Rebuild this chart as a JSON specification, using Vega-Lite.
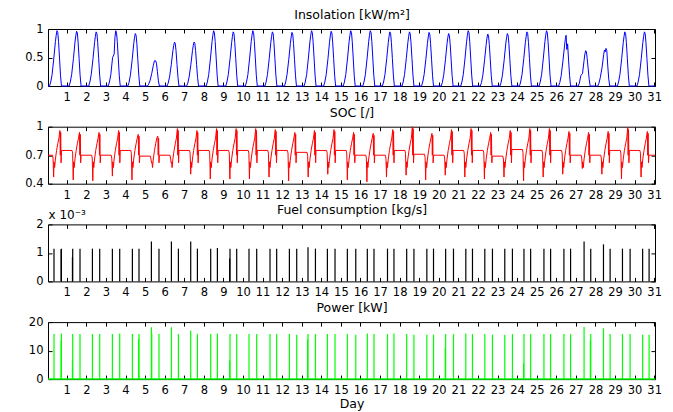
{
  "$schema": "https://vega.github.io/schema/vega-lite/v6.json",
  "bounds": "flush",
  "spacing": 40.7,
  "padding": {"left": 24, "top": 7, "right": 0, "bottom": 0},
  "background": "white",
  "config": {
    "font": "DejaVu Sans",
    "view": {"stroke": "black", "strokeWidth": 1},
    "axis": {
      "grid": false, "domain": false, "ticks": true, "tickColor": "black", "tickSize": -4,
      "labelFont": "DejaVu Sans", "labelFontSize": 11.5, "labelColor": "black",
      "labelOverlap": false, "labelFlush": false,
      "titleFont": "DejaVu Sans", "titleFontSize": 12.5, "titleFontWeight": "normal", "titleColor": "black"
    },
    "axisX": {"labelPadding": 9.5},
    "axisY": {"labelPadding": 9},
    "axisTop": {"titleY": -10.7, "titleX": 303.5, "titleAlign": "center", "titleBaseline": "alphabetic"}
  },
  "datasets": {
    "ins": [
      {"t":0.0417,"v":0},
      {"t":0.12,"v":0},{"t":0.18,"v":0.07},{"t":0.25,"v":0.2},{"t":0.34,"v":0.49},{"t":0.42,"v":0.78},{"t":0.46,"v":0.89},{"t":0.5,"v":0.97},{"t":0.54,"v":0.94},{"t":0.58,"v":0.78},{"t":0.63,"v":0.49},{"t":0.68,"v":0.19},{"t":0.73,"v":0},
      {"t":1.12,"v":0},{"t":1.18,"v":0.07},{"t":1.25,"v":0.2},{"t":1.34,"v":0.48},{"t":1.42,"v":0.77},{"t":1.46,"v":0.88},{"t":1.5,"v":0.96},{"t":1.54,"v":0.93},{"t":1.58,"v":0.77},{"t":1.63,"v":0.48},{"t":1.68,"v":0.19},{"t":1.73,"v":0},
      {"t":2.12,"v":0},{"t":2.18,"v":0.07},{"t":2.25,"v":0.2},{"t":2.34,"v":0.48},{"t":2.42,"v":0.76},{"t":2.46,"v":0.87},{"t":2.5,"v":0.95},{"t":2.54,"v":0.92},{"t":2.58,"v":0.76},{"t":2.63,"v":0.48},{"t":2.68,"v":0.19},{"t":2.73,"v":0},
      {"t":3.12,"v":0},{"t":3.18,"v":0.07},{"t":3.25,"v":0.2},{"t":3.34,"v":0.5},{"t":3.42,"v":0.56},{"t":3.46,"v":0.85},{"t":3.5,"v":0.97},{"t":3.54,"v":0.94},{"t":3.58,"v":0.78},{"t":3.63,"v":0.49},{"t":3.68,"v":0.19},{"t":3.73,"v":0},
      {"t":4.12,"v":0},{"t":4.18,"v":0.06},{"t":4.25,"v":0.19},{"t":4.34,"v":0.46},{"t":4.42,"v":0.74},{"t":4.46,"v":0.85},{"t":4.5,"v":0.92},{"t":4.54,"v":0.89},{"t":4.58,"v":0.74},{"t":4.63,"v":0.46},{"t":4.68,"v":0.18},{"t":4.73,"v":0},
      {"t":5.12,"v":0},{"t":5.18,"v":0.03},{"t":5.25,"v":0.09},{"t":5.34,"v":0.22},{"t":5.42,"v":0.36},{"t":5.46,"v":0.42},{"t":5.5,"v":0.45},{"t":5.54,"v":0.44},{"t":5.58,"v":0.4},{"t":5.63,"v":0.25},{"t":5.68,"v":0.09},{"t":5.73,"v":0},
      {"t":6.12,"v":0},{"t":6.18,"v":0.05},{"t":6.25,"v":0.16},{"t":6.34,"v":0.38},{"t":6.42,"v":0.62},{"t":6.46,"v":0.71},{"t":6.5,"v":0.77},{"t":6.54,"v":0.75},{"t":6.58,"v":0.62},{"t":6.63,"v":0.38},{"t":6.68,"v":0.15},{"t":6.73,"v":0},
      {"t":7.12,"v":0},{"t":7.18,"v":0.05},{"t":7.25,"v":0.16},{"t":7.34,"v":0.38},{"t":7.42,"v":0.62},{"t":7.46,"v":0.71},{"t":7.5,"v":0.77},{"t":7.54,"v":0.75},{"t":7.58,"v":0.62},{"t":7.63,"v":0.38},{"t":7.68,"v":0.15},{"t":7.73,"v":0},
      {"t":8.12,"v":0},{"t":8.18,"v":0.07},{"t":8.25,"v":0.2},{"t":8.34,"v":0.49},{"t":8.42,"v":0.78},{"t":8.46,"v":0.89},{"t":8.5,"v":0.97},{"t":8.54,"v":0.94},{"t":8.58,"v":0.78},{"t":8.63,"v":0.49},{"t":8.68,"v":0.19},{"t":8.73,"v":0},
      {"t":9.12,"v":0},{"t":9.18,"v":0.07},{"t":9.25,"v":0.2},{"t":9.34,"v":0.48},{"t":9.42,"v":0.76},{"t":9.46,"v":0.87},{"t":9.5,"v":0.95},{"t":9.54,"v":0.92},{"t":9.58,"v":0.76},{"t":9.63,"v":0.48},{"t":9.68,"v":0.19},{"t":9.73,"v":0},
      {"t":10.12,"v":0},{"t":10.18,"v":0.07},{"t":10.25,"v":0.2},{"t":10.34,"v":0.49},{"t":10.42,"v":0.78},{"t":10.46,"v":0.89},{"t":10.5,"v":0.97},{"t":10.54,"v":0.94},{"t":10.58,"v":0.78},{"t":10.63,"v":0.49},{"t":10.68,"v":0.19},{"t":10.73,"v":0},
      {"t":11.12,"v":0},{"t":11.18,"v":0.07},{"t":11.25,"v":0.2},{"t":11.34,"v":0.48},{"t":11.42,"v":0.76},{"t":11.46,"v":0.87},{"t":11.5,"v":0.95},{"t":11.54,"v":0.92},{"t":11.58,"v":0.76},{"t":11.63,"v":0.48},{"t":11.68,"v":0.19},{"t":11.73,"v":0},
      {"t":12.12,"v":0},{"t":12.18,"v":0.07},{"t":12.25,"v":0.2},{"t":12.34,"v":0.47},{"t":12.42,"v":0.75},{"t":12.46,"v":0.86},{"t":12.5,"v":0.94},{"t":12.54,"v":0.91},{"t":12.58,"v":0.75},{"t":12.63,"v":0.47},{"t":12.68,"v":0.19},{"t":12.73,"v":0},
      {"t":13.12,"v":0},{"t":13.18,"v":0.07},{"t":13.25,"v":0.2},{"t":13.34,"v":0.49},{"t":13.42,"v":0.78},{"t":13.46,"v":0.89},{"t":13.5,"v":0.97},{"t":13.54,"v":0.94},{"t":13.58,"v":0.78},{"t":13.63,"v":0.49},{"t":13.68,"v":0.19},{"t":13.73,"v":0},
      {"t":14.12,"v":0},{"t":14.18,"v":0.07},{"t":14.25,"v":0.2},{"t":14.34,"v":0.48},{"t":14.42,"v":0.77},{"t":14.46,"v":0.88},{"t":14.5,"v":0.96},{"t":14.54,"v":0.93},{"t":14.58,"v":0.77},{"t":14.63,"v":0.48},{"t":14.68,"v":0.19},{"t":14.73,"v":0},
      {"t":15.12,"v":0},{"t":15.18,"v":0.07},{"t":15.25,"v":0.2},{"t":15.34,"v":0.49},{"t":15.42,"v":0.78},{"t":15.46,"v":0.89},{"t":15.5,"v":0.97},{"t":15.54,"v":0.94},{"t":15.58,"v":0.78},{"t":15.63,"v":0.49},{"t":15.68,"v":0.19},{"t":15.73,"v":0},
      {"t":16.12,"v":0},{"t":16.18,"v":0.07},{"t":16.25,"v":0.2},{"t":16.34,"v":0.49},{"t":16.42,"v":0.78},{"t":16.46,"v":0.89},{"t":16.5,"v":0.97},{"t":16.54,"v":0.94},{"t":16.58,"v":0.78},{"t":16.63,"v":0.49},{"t":16.68,"v":0.19},{"t":16.73,"v":0},
      {"t":17.12,"v":0},{"t":17.18,"v":0.07},{"t":17.25,"v":0.2},{"t":17.34,"v":0.48},{"t":17.42,"v":0.76},{"t":17.46,"v":0.87},{"t":17.5,"v":0.95},{"t":17.54,"v":0.92},{"t":17.58,"v":0.76},{"t":17.63,"v":0.48},{"t":17.68,"v":0.19},{"t":17.73,"v":0},
      {"t":18.12,"v":0},{"t":18.18,"v":0.07},{"t":18.25,"v":0.2},{"t":18.34,"v":0.48},{"t":18.42,"v":0.76},{"t":18.46,"v":0.87},{"t":18.5,"v":0.95},{"t":18.54,"v":0.92},{"t":18.58,"v":0.76},{"t":18.63,"v":0.48},{"t":18.68,"v":0.19},{"t":18.73,"v":0},
      {"t":19.12,"v":0},{"t":19.18,"v":0.07},{"t":19.25,"v":0.2},{"t":19.34,"v":0.47},{"t":19.42,"v":0.75},{"t":19.46,"v":0.86},{"t":19.5,"v":0.94},{"t":19.54,"v":0.91},{"t":19.58,"v":0.75},{"t":19.63,"v":0.47},{"t":19.68,"v":0.19},{"t":19.73,"v":0},
      {"t":20.12,"v":0},{"t":20.18,"v":0.06},{"t":20.25,"v":0.19},{"t":20.34,"v":0.46},{"t":20.42,"v":0.74},{"t":20.46,"v":0.85},{"t":20.5,"v":0.92},{"t":20.54,"v":0.89},{"t":20.58,"v":0.74},{"t":20.63,"v":0.46},{"t":20.68,"v":0.18},{"t":20.73,"v":0},
      {"t":21.12,"v":0},{"t":21.18,"v":0.07},{"t":21.25,"v":0.2},{"t":21.34,"v":0.49},{"t":21.42,"v":0.78},{"t":21.46,"v":0.89},{"t":21.5,"v":0.97},{"t":21.54,"v":0.94},{"t":21.58,"v":0.78},{"t":21.63,"v":0.49},{"t":21.68,"v":0.19},{"t":21.73,"v":0},
      {"t":22.12,"v":0},{"t":22.18,"v":0.06},{"t":22.25,"v":0.19},{"t":22.34,"v":0.46},{"t":22.42,"v":0.73},{"t":22.46,"v":0.84},{"t":22.5,"v":0.91},{"t":22.54,"v":0.88},{"t":22.58,"v":0.73},{"t":22.63,"v":0.46},{"t":22.68,"v":0.18},{"t":22.73,"v":0},
      {"t":23.12,"v":0},{"t":23.18,"v":0.06},{"t":23.25,"v":0.19},{"t":23.34,"v":0.46},{"t":23.42,"v":0.74},{"t":23.46,"v":0.85},{"t":23.5,"v":0.92},{"t":23.54,"v":0.89},{"t":23.58,"v":0.74},{"t":23.63,"v":0.46},{"t":23.68,"v":0.18},{"t":23.73,"v":0},
      {"t":24.12,"v":0},{"t":24.18,"v":0.07},{"t":24.25,"v":0.2},{"t":24.34,"v":0.48},{"t":24.42,"v":0.76},{"t":24.46,"v":0.87},{"t":24.5,"v":0.95},{"t":24.54,"v":0.92},{"t":24.58,"v":0.76},{"t":24.63,"v":0.48},{"t":24.68,"v":0.19},{"t":24.73,"v":0},
      {"t":25.12,"v":0},{"t":25.18,"v":0.07},{"t":25.25,"v":0.2},{"t":25.34,"v":0.49},{"t":25.42,"v":0.78},{"t":25.46,"v":0.89},{"t":25.5,"v":0.97},{"t":25.54,"v":0.94},{"t":25.58,"v":0.78},{"t":25.63,"v":0.49},{"t":25.68,"v":0.19},{"t":25.73,"v":0},
      {"t":26.12,"v":0},{"t":26.18,"v":0.06},{"t":26.25,"v":0.18},{"t":26.34,"v":0.44},{"t":26.42,"v":0.7},{"t":26.46,"v":0.82},{"t":26.5,"v":0.89},{"t":26.54,"v":0.64},{"t":26.58,"v":0.74},{"t":26.63,"v":0.44},{"t":26.68,"v":0.18},{"t":26.73,"v":0},
      {"t":27.12,"v":0},{"t":27.18,"v":0.05},{"t":27.25,"v":0.18},{"t":27.34,"v":0.22},{"t":27.42,"v":0.45},{"t":27.46,"v":0.56},{"t":27.5,"v":0.62},{"t":27.54,"v":0.6},{"t":27.58,"v":0.48},{"t":27.63,"v":0.3},{"t":27.68,"v":0.12},{"t":27.73,"v":0},
      {"t":28.12,"v":0},{"t":28.18,"v":0.05},{"t":28.25,"v":0.15},{"t":28.34,"v":0.33},{"t":28.42,"v":0.55},{"t":28.46,"v":0.63},{"t":28.5,"v":0.6},{"t":28.54,"v":0.66},{"t":28.58,"v":0.62},{"t":28.63,"v":0.35},{"t":28.68,"v":0.12},{"t":28.73,"v":0},
      {"t":29.12,"v":0},{"t":29.18,"v":0.07},{"t":29.25,"v":0.2},{"t":29.34,"v":0.48},{"t":29.42,"v":0.76},{"t":29.46,"v":0.87},{"t":29.5,"v":0.95},{"t":29.54,"v":0.92},{"t":29.58,"v":0.76},{"t":29.63,"v":0.48},{"t":29.68,"v":0.19},{"t":29.73,"v":0},
      {"t":30.12,"v":0},{"t":30.18,"v":0.07},{"t":30.25,"v":0.2},{"t":30.34,"v":0.48},{"t":30.42,"v":0.76},{"t":30.46,"v":0.87},{"t":30.5,"v":0.95},{"t":30.54,"v":0.92},{"t":30.58,"v":0.76},{"t":30.63,"v":0.48},{"t":30.68,"v":0.19},{"t":30.73,"v":0},
      {"t":31.0417,"v":0}
    ],
    "soc": [
      {"t":0.0417,"v":0.7},
      {"t":0.27,"v":0.7},{"t":0.3,"v":0.67},{"t":0.33,"v":0.47},{"t":0.35,"v":0.63},{"t":0.38,"v":0.57},{"t":0.42,"v":0.66},{"t":0.48,"v":0.75},{"t":0.54,"v":0.82},{"t":0.6,"v":0.88},{"t":0.65,"v":0.96},{"t":0.67,"v":0.7},{"t":0.69,"v":0.94},{"t":0.71,"v":0.62},{"t":0.73,"v":0.75},
      {"t":1.27,"v":0.75},{"t":1.3,"v":0.72},{"t":1.33,"v":0.44},{"t":1.35,"v":0.63},{"t":1.38,"v":0.57},{"t":1.42,"v":0.66},{"t":1.48,"v":0.75},{"t":1.54,"v":0.82},{"t":1.6,"v":0.88},{"t":1.65,"v":0.94},{"t":1.67,"v":0.7},{"t":1.69,"v":0.92},{"t":1.71,"v":0.62},{"t":1.73,"v":0.7},
      {"t":2.27,"v":0.7},{"t":2.3,"v":0.67},{"t":2.33,"v":0.43},{"t":2.35,"v":0.63},{"t":2.38,"v":0.57},{"t":2.42,"v":0.66},{"t":2.48,"v":0.75},{"t":2.54,"v":0.82},{"t":2.6,"v":0.88},{"t":2.65,"v":0.94},{"t":2.67,"v":0.7},{"t":2.69,"v":0.92},{"t":2.71,"v":0.62},{"t":2.73,"v":0.7},
      {"t":3.27,"v":0.7},{"t":3.3,"v":0.67},{"t":3.33,"v":0.48},{"t":3.35,"v":0.63},{"t":3.38,"v":0.57},{"t":3.42,"v":0.66},{"t":3.48,"v":0.75},{"t":3.54,"v":0.82},{"t":3.6,"v":0.88},{"t":3.65,"v":0.96},{"t":3.67,"v":0.7},{"t":3.69,"v":0.94},{"t":3.71,"v":0.62},{"t":3.73,"v":0.75},
      {"t":4.27,"v":0.75},{"t":4.3,"v":0.72},{"t":4.33,"v":0.44},{"t":4.35,"v":0.63},{"t":4.38,"v":0.57},{"t":4.42,"v":0.66},{"t":4.48,"v":0.75},{"t":4.54,"v":0.82},{"t":4.6,"v":0.88},{"t":4.65,"v":0.92},{"t":4.67,"v":0.7},{"t":4.69,"v":0.9},{"t":4.71,"v":0.62},{"t":4.73,"v":0.69},
      {"t":5.27,"v":0.69},{"t":5.3,"v":0.66},{"t":5.33,"v":0.62},{"t":5.35,"v":0.63},{"t":5.38,"v":0.57},{"t":5.42,"v":0.66},{"t":5.48,"v":0.75},{"t":5.54,"v":0.82},{"t":5.6,"v":0.88},{"t":5.65,"v":0.9},{"t":5.67,"v":0.7},{"t":5.69,"v":0.88},{"t":5.71,"v":0.62},{"t":5.73,"v":0.7},
      {"t":6.27,"v":0.7},{"t":6.3,"v":0.67},{"t":6.33,"v":0.62},{"t":6.35,"v":0.63},{"t":6.38,"v":0.57},{"t":6.42,"v":0.66},{"t":6.48,"v":0.75},{"t":6.54,"v":0.82},{"t":6.6,"v":0.88},{"t":6.65,"v":0.98},{"t":6.67,"v":0.7},{"t":6.69,"v":0.96},{"t":6.71,"v":0.62},{"t":6.73,"v":0.75},
      {"t":7.27,"v":0.75},{"t":7.3,"v":0.72},{"t":7.33,"v":0.5},{"t":7.35,"v":0.63},{"t":7.38,"v":0.57},{"t":7.42,"v":0.66},{"t":7.48,"v":0.75},{"t":7.54,"v":0.82},{"t":7.6,"v":0.88},{"t":7.65,"v":0.96},{"t":7.67,"v":0.7},{"t":7.69,"v":0.94},{"t":7.71,"v":0.62},{"t":7.73,"v":0.75},
      {"t":8.27,"v":0.75},{"t":8.3,"v":0.72},{"t":8.33,"v":0.45},{"t":8.35,"v":0.63},{"t":8.38,"v":0.57},{"t":8.42,"v":0.66},{"t":8.48,"v":0.75},{"t":8.54,"v":0.82},{"t":8.6,"v":0.88},{"t":8.65,"v":0.98},{"t":8.67,"v":0.7},{"t":8.69,"v":0.96},{"t":8.71,"v":0.62},{"t":8.73,"v":0.75},
      {"t":9.27,"v":0.75},{"t":9.3,"v":0.72},{"t":9.33,"v":0.45},{"t":9.35,"v":0.63},{"t":9.38,"v":0.57},{"t":9.42,"v":0.66},{"t":9.48,"v":0.75},{"t":9.54,"v":0.82},{"t":9.6,"v":0.88},{"t":9.65,"v":0.98},{"t":9.67,"v":0.7},{"t":9.69,"v":0.96},{"t":9.71,"v":0.62},{"t":9.73,"v":0.75},
      {"t":10.27,"v":0.75},{"t":10.3,"v":0.72},{"t":10.33,"v":0.45},{"t":10.35,"v":0.63},{"t":10.38,"v":0.57},{"t":10.42,"v":0.66},{"t":10.48,"v":0.75},{"t":10.54,"v":0.82},{"t":10.6,"v":0.88},{"t":10.65,"v":0.98},{"t":10.67,"v":0.7},{"t":10.69,"v":0.96},{"t":10.71,"v":0.62},{"t":10.73,"v":0.75},
      {"t":11.27,"v":0.75},{"t":11.3,"v":0.72},{"t":11.33,"v":0.47},{"t":11.35,"v":0.63},{"t":11.38,"v":0.57},{"t":11.42,"v":0.66},{"t":11.48,"v":0.75},{"t":11.54,"v":0.82},{"t":11.6,"v":0.88},{"t":11.65,"v":0.97},{"t":11.67,"v":0.7},{"t":11.69,"v":0.95},{"t":11.71,"v":0.62},{"t":11.73,"v":0.75},
      {"t":12.27,"v":0.75},{"t":12.3,"v":0.72},{"t":12.33,"v":0.43},{"t":12.35,"v":0.63},{"t":12.38,"v":0.57},{"t":12.42,"v":0.66},{"t":12.48,"v":0.75},{"t":12.54,"v":0.82},{"t":12.6,"v":0.88},{"t":12.65,"v":0.94},{"t":12.67,"v":0.7},{"t":12.69,"v":0.92},{"t":12.71,"v":0.62},{"t":12.73,"v":0.73},
      {"t":13.27,"v":0.73},{"t":13.3,"v":0.7},{"t":13.33,"v":0.47},{"t":13.35,"v":0.63},{"t":13.38,"v":0.57},{"t":13.42,"v":0.66},{"t":13.48,"v":0.75},{"t":13.54,"v":0.82},{"t":13.6,"v":0.88},{"t":13.65,"v":0.96},{"t":13.67,"v":0.7},{"t":13.69,"v":0.94},{"t":13.71,"v":0.62},{"t":13.73,"v":0.75},
      {"t":14.27,"v":0.75},{"t":14.3,"v":0.72},{"t":14.33,"v":0.5},{"t":14.35,"v":0.63},{"t":14.38,"v":0.57},{"t":14.42,"v":0.66},{"t":14.48,"v":0.75},{"t":14.54,"v":0.82},{"t":14.6,"v":0.88},{"t":14.65,"v":0.97},{"t":14.67,"v":0.7},{"t":14.69,"v":0.95},{"t":14.71,"v":0.62},{"t":14.73,"v":0.75},
      {"t":15.27,"v":0.75},{"t":15.3,"v":0.72},{"t":15.33,"v":0.44},{"t":15.35,"v":0.63},{"t":15.38,"v":0.57},{"t":15.42,"v":0.66},{"t":15.48,"v":0.75},{"t":15.54,"v":0.82},{"t":15.6,"v":0.88},{"t":15.65,"v":0.94},{"t":15.67,"v":0.7},{"t":15.69,"v":0.92},{"t":15.71,"v":0.62},{"t":15.73,"v":0.7},
      {"t":16.27,"v":0.7},{"t":16.3,"v":0.67},{"t":16.33,"v":0.42},{"t":16.35,"v":0.63},{"t":16.38,"v":0.57},{"t":16.42,"v":0.66},{"t":16.48,"v":0.75},{"t":16.54,"v":0.82},{"t":16.6,"v":0.88},{"t":16.65,"v":0.93},{"t":16.67,"v":0.7},{"t":16.69,"v":0.91},{"t":16.71,"v":0.62},{"t":16.73,"v":0.7},
      {"t":17.27,"v":0.7},{"t":17.3,"v":0.67},{"t":17.33,"v":0.47},{"t":17.35,"v":0.63},{"t":17.38,"v":0.57},{"t":17.42,"v":0.66},{"t":17.48,"v":0.75},{"t":17.54,"v":0.82},{"t":17.6,"v":0.88},{"t":17.65,"v":0.97},{"t":17.67,"v":0.7},{"t":17.69,"v":0.95},{"t":17.71,"v":0.62},{"t":17.73,"v":0.75},
      {"t":18.27,"v":0.75},{"t":18.3,"v":0.72},{"t":18.33,"v":0.49},{"t":18.35,"v":0.63},{"t":18.38,"v":0.57},{"t":18.42,"v":0.66},{"t":18.48,"v":0.75},{"t":18.54,"v":0.82},{"t":18.6,"v":0.88},{"t":18.65,"v":1.0},{"t":18.67,"v":0.7},{"t":18.69,"v":0.98},{"t":18.71,"v":0.62},{"t":18.73,"v":0.71},
      {"t":19.27,"v":0.71},{"t":19.3,"v":0.68},{"t":19.33,"v":0.44},{"t":19.35,"v":0.63},{"t":19.38,"v":0.57},{"t":19.42,"v":0.66},{"t":19.48,"v":0.75},{"t":19.54,"v":0.82},{"t":19.6,"v":0.88},{"t":19.65,"v":0.93},{"t":19.67,"v":0.7},{"t":19.69,"v":0.91},{"t":19.71,"v":0.62},{"t":19.73,"v":0.7},
      {"t":20.27,"v":0.7},{"t":20.3,"v":0.67},{"t":20.33,"v":0.49},{"t":20.35,"v":0.63},{"t":20.38,"v":0.57},{"t":20.42,"v":0.66},{"t":20.48,"v":0.75},{"t":20.54,"v":0.82},{"t":20.6,"v":0.88},{"t":20.65,"v":0.97},{"t":20.67,"v":0.7},{"t":20.69,"v":0.95},{"t":20.71,"v":0.62},{"t":20.73,"v":0.75},
      {"t":21.27,"v":0.75},{"t":21.3,"v":0.72},{"t":21.33,"v":0.47},{"t":21.35,"v":0.63},{"t":21.38,"v":0.57},{"t":21.42,"v":0.66},{"t":21.48,"v":0.75},{"t":21.54,"v":0.82},{"t":21.6,"v":0.88},{"t":21.65,"v":0.98},{"t":21.67,"v":0.7},{"t":21.69,"v":0.96},{"t":21.71,"v":0.62},{"t":21.73,"v":0.75},
      {"t":22.27,"v":0.75},{"t":22.3,"v":0.72},{"t":22.33,"v":0.45},{"t":22.35,"v":0.63},{"t":22.38,"v":0.57},{"t":22.42,"v":0.66},{"t":22.48,"v":0.75},{"t":22.54,"v":0.82},{"t":22.6,"v":0.88},{"t":22.65,"v":0.94},{"t":22.67,"v":0.7},{"t":22.69,"v":0.92},{"t":22.71,"v":0.62},{"t":22.73,"v":0.69},
      {"t":23.27,"v":0.69},{"t":23.3,"v":0.66},{"t":23.33,"v":0.47},{"t":23.35,"v":0.63},{"t":23.38,"v":0.57},{"t":23.42,"v":0.66},{"t":23.48,"v":0.75},{"t":23.54,"v":0.82},{"t":23.6,"v":0.88},{"t":23.65,"v":0.96},{"t":23.67,"v":0.7},{"t":23.69,"v":0.94},{"t":23.71,"v":0.62},{"t":23.73,"v":0.76},
      {"t":24.27,"v":0.76},{"t":24.3,"v":0.73},{"t":24.33,"v":0.43},{"t":24.35,"v":0.63},{"t":24.38,"v":0.57},{"t":24.42,"v":0.66},{"t":24.48,"v":0.75},{"t":24.54,"v":0.82},{"t":24.6,"v":0.88},{"t":24.65,"v":0.98},{"t":24.67,"v":0.7},{"t":24.69,"v":0.96},{"t":24.71,"v":0.62},{"t":24.73,"v":0.75},
      {"t":25.27,"v":0.75},{"t":25.3,"v":0.72},{"t":25.33,"v":0.47},{"t":25.35,"v":0.63},{"t":25.38,"v":0.57},{"t":25.42,"v":0.66},{"t":25.48,"v":0.75},{"t":25.54,"v":0.82},{"t":25.6,"v":0.88},{"t":25.65,"v":0.98},{"t":25.67,"v":0.7},{"t":25.69,"v":0.96},{"t":25.71,"v":0.62},{"t":25.73,"v":0.75},
      {"t":26.27,"v":0.75},{"t":26.3,"v":0.72},{"t":26.33,"v":0.5},{"t":26.35,"v":0.63},{"t":26.38,"v":0.57},{"t":26.42,"v":0.66},{"t":26.48,"v":0.75},{"t":26.54,"v":0.82},{"t":26.6,"v":0.88},{"t":26.65,"v":0.95},{"t":26.67,"v":0.7},{"t":26.69,"v":0.93},{"t":26.71,"v":0.62},{"t":26.73,"v":0.7},
      {"t":27.27,"v":0.7},{"t":27.3,"v":0.67},{"t":27.33,"v":0.56},{"t":27.35,"v":0.63},{"t":27.38,"v":0.57},{"t":27.42,"v":0.66},{"t":27.48,"v":0.75},{"t":27.54,"v":0.82},{"t":27.6,"v":0.88},{"t":27.65,"v":0.94},{"t":27.67,"v":0.7},{"t":27.69,"v":0.92},{"t":27.71,"v":0.62},{"t":27.73,"v":0.7},
      {"t":28.27,"v":0.7},{"t":28.3,"v":0.67},{"t":28.33,"v":0.5},{"t":28.35,"v":0.63},{"t":28.38,"v":0.57},{"t":28.42,"v":0.66},{"t":28.48,"v":0.75},{"t":28.54,"v":0.82},{"t":28.6,"v":0.88},{"t":28.65,"v":0.95},{"t":28.67,"v":0.7},{"t":28.69,"v":0.93},{"t":28.71,"v":0.62},{"t":28.73,"v":0.75},
      {"t":29.27,"v":0.75},{"t":29.3,"v":0.72},{"t":29.33,"v":0.45},{"t":29.35,"v":0.63},{"t":29.38,"v":0.57},{"t":29.42,"v":0.66},{"t":29.48,"v":0.75},{"t":29.54,"v":0.82},{"t":29.6,"v":0.88},{"t":29.65,"v":0.99},{"t":29.67,"v":0.7},{"t":29.69,"v":0.97},{"t":29.71,"v":0.62},{"t":29.73,"v":0.75},
      {"t":30.27,"v":0.75},{"t":30.3,"v":0.72},{"t":30.33,"v":0.47},{"t":30.35,"v":0.63},{"t":30.38,"v":0.57},{"t":30.42,"v":0.66},{"t":30.48,"v":0.75},{"t":30.54,"v":0.82},{"t":30.6,"v":0.88},{"t":30.65,"v":0.95},{"t":30.67,"v":0.7},{"t":30.69,"v":0.93},{"t":30.71,"v":0.62},{"t":30.73,"v":0.7},
      {"t":31.0417,"v":0.7}
    ],
    "fuel": [
      {"t":0.348,"v":1.15},{"t":0.71,"v":1.13},{"t":0.726,"v":1.15},
      {"t":1.29,"v":0.85},{"t":1.303,"v":1.15},{"t":1.676,"v":1.15},
      {"t":2.31,"v":1.15},{"t":2.682,"v":1.15},
      {"t":3.33,"v":1.15},{"t":3.704,"v":1.15},
      {"t":4.352,"v":1.15},{"t":4.689,"v":1.15},
      {"t":5.322,"v":1.4},{"t":5.71,"v":1.15},
      {"t":6.344,"v":1.4},{"t":6.702,"v":1.15},
      {"t":7.33,"v":1.4},{"t":7.672,"v":1.15},
      {"t":8.351,"v":1.15},{"t":8.693,"v":1.17},
      {"t":9.32,"v":0.8},{"t":9.337,"v":1.15},{"t":9.679,"v":1.15},
      {"t":10.307,"v":1.15},{"t":10.7,"v":1.15},
      {"t":11.38,"v":1.15},{"t":11.72,"v":1.15},
      {"t":12.37,"v":1.15},{"t":12.744,"v":1.15},
      {"t":13.32,"v":1.2},{"t":13.7,"v":1.15},
      {"t":14.31,"v":1.15},{"t":14.7,"v":1.15},
      {"t":15.33,"v":1.15},{"t":15.76,"v":1.15},
      {"t":16.35,"v":1.15},{"t":16.69,"v":1.15},
      {"t":17.38,"v":1.15},{"t":17.71,"v":1.15},
      {"t":18.36,"v":1.15},{"t":18.73,"v":1.15},
      {"t":19.39,"v":1.15},{"t":19.73,"v":1.15},
      {"t":20.35,"v":1.15},{"t":20.75,"v":1.15},
      {"t":21.38,"v":1.15},{"t":21.72,"v":1.15},
      {"t":22.35,"v":1.15},{"t":22.74,"v":1.15},
      {"t":23.37,"v":1.15},{"t":23.76,"v":1.15},
      {"t":24.35,"v":1.15},{"t":24.69,"v":1.15},
      {"t":25.37,"v":1.15},{"t":25.71,"v":1.15},
      {"t":26.39,"v":1.15},{"t":26.73,"v":1.15},
      {"t":27.42,"v":1.4},{"t":27.76,"v":1.15},
      {"t":28.41,"v":1.3},{"t":28.75,"v":1.15},
      {"t":29.38,"v":1.15},{"t":29.77,"v":1.15},
      {"t":30.41,"v":1.15},{"t":30.74,"v":1.15}
    ],
    "pow": [
      {"t":0.348,"v":15.8},{"t":0.71,"v":13.5},{"t":0.726,"v":16},
      {"t":1.29,"v":6.5},{"t":1.303,"v":15.8},{"t":1.676,"v":15.8},
      {"t":2.31,"v":15.8},{"t":2.682,"v":15.8},
      {"t":3.33,"v":15.8},{"t":3.704,"v":16},
      {"t":4.352,"v":15.8},{"t":4.67,"v":14},{"t":4.689,"v":15.8},
      {"t":5.322,"v":18.2},{"t":5.34,"v":16},{"t":5.71,"v":15.8},
      {"t":6.344,"v":18.2},{"t":6.702,"v":15.8},
      {"t":7.33,"v":17},{"t":7.672,"v":15.8},
      {"t":8.351,"v":15.8},{"t":8.693,"v":16},
      {"t":9.32,"v":6.5},{"t":9.337,"v":15.8},{"t":9.679,"v":15.8},
      {"t":10.307,"v":15.8},{"t":10.7,"v":15.8},
      {"t":11.38,"v":15.8},{"t":11.72,"v":15.8},
      {"t":12.37,"v":15.8},{"t":12.744,"v":15.6},
      {"t":13.3,"v":14},{"t":13.32,"v":15.8},{"t":13.7,"v":15.8},
      {"t":14.31,"v":15.8},{"t":14.7,"v":15.8},
      {"t":15.33,"v":15.8},{"t":15.76,"v":15.6},
      {"t":16.35,"v":16},{"t":16.69,"v":15.8},
      {"t":17.38,"v":15.8},{"t":17.71,"v":16},
      {"t":18.36,"v":15.8},{"t":18.73,"v":15.6},
      {"t":19.39,"v":15.6},{"t":19.73,"v":15.6},
      {"t":20.33,"v":11},{"t":20.35,"v":15.8},{"t":20.75,"v":15.8},
      {"t":21.38,"v":16},{"t":21.72,"v":15.8},
      {"t":22.35,"v":15.8},{"t":22.74,"v":15.6},
      {"t":23.37,"v":15.6},{"t":23.76,"v":15.8},
      {"t":24.33,"v":5.5},{"t":24.35,"v":15.8},{"t":24.69,"v":15.8},
      {"t":25.37,"v":15.8},{"t":25.71,"v":15.8},
      {"t":26.39,"v":15.8},{"t":26.73,"v":15.8},
      {"t":27.42,"v":18.3},{"t":27.74,"v":13.5},{"t":27.76,"v":15.8},
      {"t":28.41,"v":17.8},{"t":28.75,"v":15.8},
      {"t":29.38,"v":15.8},{"t":29.77,"v":15.8},
      {"t":30.41,"v":15.6},{"t":30.74,"v":15.6}
    ],
    "base": [{"t":0.0417,"v":0},{"t":31.0417,"v":0}]
  },
  "vconcat": [
    {
      "width": 607, "height": 57,
      "layer": [
        {
          "data": {"name": "ins"},
          "mark": {"type": "line", "color": "#0000ff", "strokeWidth": 1},
          "encoding": {
            "x": {"field": "t", "type": "quantitative", "scale": {"domain": [0.0417, 31.0417], "nice": false, "zero": false},
                  "axis": {"orient": "bottom", "title": null, "values": [1,2,3,4,5,6,7,8,9,10,11,12,13,14,15,16,17,18,19,20,21,22,23,24,25,26,27,28,29,30,31]}},
            "y": {"field": "v", "type": "quantitative", "scale": {"domain": [0, 1], "nice": false},
                  "axis": {"orient": "left", "title": null, "format": "~g", "values": [0, 0.5, 1]}}
          }
        },
        {
          "data": {"name": "ins"},
          "mark": {"type": "line", "opacity": 0},
          "encoding": {
            "x": {"field": "t", "type": "quantitative", "scale": {"domain": [0.0417, 31.0417], "nice": false, "zero": false},
                  "axis": {"orient": "top", "title": "Insolation [kW/m²]", "labels": false, "values": [1,2,3,4,5,6,7,8,9,10,11,12,13,14,15,16,17,18,19,20,21,22,23,24,25,26,27,28,29,30,31]}},
            "y": {"field": "v", "type": "quantitative", "scale": {"domain": [0, 1], "nice": false},
                  "axis": {"orient": "right", "title": null, "labels": false, "values": [0, 0.5, 1]}}
          }
        }
      ]
    },
    {
      "width": 607, "height": 57,
      "layer": [
        {
          "data": {"name": "soc"},
          "mark": {"type": "line", "color": "#ff0000", "strokeWidth": 1},
          "encoding": {
            "x": {"field": "t", "type": "quantitative", "scale": {"domain": [0.0417, 31.0417], "nice": false, "zero": false},
                  "axis": {"orient": "bottom", "title": null, "values": [1,2,3,4,5,6,7,8,9,10,11,12,13,14,15,16,17,18,19,20,21,22,23,24,25,26,27,28,29,30,31]}},
            "y": {"field": "v", "type": "quantitative", "scale": {"domain": [0.4, 1], "nice": false, "zero": false},
                  "axis": {"orient": "left", "title": null, "format": "~g", "values": [0.4, 0.7, 1]}}
          }
        },
        {
          "data": {"name": "soc"},
          "mark": {"type": "line", "opacity": 0},
          "encoding": {
            "x": {"field": "t", "type": "quantitative", "scale": {"domain": [0.0417, 31.0417], "nice": false, "zero": false},
                  "axis": {"orient": "top", "title": "SOC [/]", "labels": false, "values": [1,2,3,4,5,6,7,8,9,10,11,12,13,14,15,16,17,18,19,20,21,22,23,24,25,26,27,28,29,30,31]}},
            "y": {"field": "v", "type": "quantitative", "scale": {"domain": [0.4, 1], "nice": false, "zero": false},
                  "axis": {"orient": "right", "title": null, "labels": false, "values": [0.4, 0.7, 1]}}
          }
        }
      ]
    },
    {
      "width": 607, "height": 57,
      "layer": [
        {
          "data": {"name": "fuel"},
          "mark": {"type": "rule", "color": "#000000", "strokeWidth": 1.2},
          "encoding": {
            "x": {"field": "t", "type": "quantitative", "scale": {"domain": [0.0417, 31.0417], "nice": false, "zero": false},
                  "axis": {"orient": "bottom", "title": null, "values": [1,2,3,4,5,6,7,8,9,10,11,12,13,14,15,16,17,18,19,20,21,22,23,24,25,26,27,28,29,30,31]}},
            "y": {"field": "v", "type": "quantitative", "scale": {"domain": [0, 2], "nice": false},
                  "axis": {"orient": "left", "format": "~g", "values": [0, 1, 2], "title": "x 10⁻³", "titleAngle": 0, "titleAlign": "left", "titleBaseline": "alphabetic", "titleX": 0, "titleY": -6, "titleFontSize": 12}},
            "y2": {"datum": 0}
          }
        },
        {
          "data": {"name": "fuel"},
          "mark": {"type": "rule", "opacity": 0},
          "encoding": {
            "x": {"field": "t", "type": "quantitative", "scale": {"domain": [0.0417, 31.0417], "nice": false, "zero": false},
                  "axis": {"orient": "top", "title": "Fuel consumption [kg/s]", "labels": false, "values": [1,2,3,4,5,6,7,8,9,10,11,12,13,14,15,16,17,18,19,20,21,22,23,24,25,26,27,28,29,30,31]}},
            "y": {"field": "v", "type": "quantitative", "scale": {"domain": [0, 2], "nice": false},
                  "axis": {"orient": "right", "title": null, "labels": false, "values": [0, 1, 2]}}
          }
        }
      ]
    },
    {
      "width": 607, "height": 57,
      "layer": [
        {
          "data": {"name": "base"},
          "mark": {"type": "line", "color": "#00ff00", "strokeWidth": 1.5},
          "encoding": {
            "x": {"field": "t", "type": "quantitative", "scale": {"domain": [0.0417, 31.0417], "nice": false, "zero": false}, "axis": null},
            "y": {"field": "v", "type": "quantitative", "scale": {"domain": [0, 20], "nice": false}, "axis": null}
          }
        },
        {
          "data": {"name": "pow"},
          "mark": {"type": "rule", "color": "#00ff00", "strokeWidth": 1.2},
          "encoding": {
            "x": {"field": "t", "type": "quantitative", "scale": {"domain": [0.0417, 31.0417], "nice": false, "zero": false},
                  "axis": {"orient": "bottom", "title": "Day", "titleY": 28.5, "titleBaseline": "alphabetic", "values": [1,2,3,4,5,6,7,8,9,10,11,12,13,14,15,16,17,18,19,20,21,22,23,24,25,26,27,28,29,30,31]}},
            "y": {"field": "v", "type": "quantitative", "scale": {"domain": [0, 20], "nice": false},
                  "axis": {"orient": "left", "title": null, "format": "~g", "values": [0, 10, 20]}},
            "y2": {"datum": 0}
          }
        },
        {
          "data": {"name": "pow"},
          "mark": {"type": "rule", "opacity": 0},
          "encoding": {
            "x": {"field": "t", "type": "quantitative", "scale": {"domain": [0.0417, 31.0417], "nice": false, "zero": false},
                  "axis": {"orient": "top", "title": "Power [kW]", "labels": false, "values": [1,2,3,4,5,6,7,8,9,10,11,12,13,14,15,16,17,18,19,20,21,22,23,24,25,26,27,28,29,30,31]}},
            "y": {"field": "v", "type": "quantitative", "scale": {"domain": [0, 20], "nice": false},
                  "axis": {"orient": "right", "title": null, "labels": false, "values": [0, 10, 20]}}
          }
        }
      ]
    }
  ]
}
